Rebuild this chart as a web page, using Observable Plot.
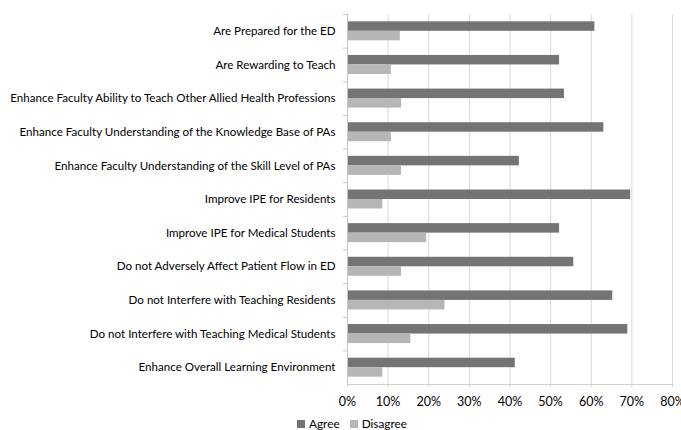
<!DOCTYPE html>
<html>
<head>
<meta charset="utf-8">
<script src="https://cdn.jsdelivr.net/npm/d3@7"></script>
<script src="https://cdn.jsdelivr.net/npm/@observablehq/plot@0.6"></script>
<style>
  html, body { margin: 0; padding: 0; background: #fff; }
  #wrap { position: relative; width: 681px; height: 430px; font-family: Lato, sans-serif; }
  #legend { position: absolute; top: 416px; left: 297px; font-size: 11.8px; color: #000; display: flex; align-items: center; }
  .sw { display: inline-block; width: 8px; height: 8px; margin-right: 4px; }
  .item { display: flex; align-items: center; margin-right: 10px; }
</style>
</head>
<body>
<div id="wrap">
  <div id="chart"></div>
  <div id="legend"></div>
</div>
<script>
const categories = [
  "Are Prepared for the ED",
  "Are Rewarding to Teach",
  "Enhance Faculty Ability to Teach Other Allied Health Professions",
  "Enhance Faculty Understanding of the Knowledge Base of PAs",
  "Enhance Faculty Understanding of the Skill Level of PAs",
  "Improve IPE for Residents",
  "Improve IPE for Medical Students",
  "Do not Adversely Affect Patient Flow in ED",
  "Do not Interfere with Teaching Residents",
  "Do not Interfere with Teaching Medical Students",
  "Enhance Overall Learning Environment"
];
const agree    = [60.9, 52.2, 53.4, 63.1, 42.3, 69.7, 52.2, 55.7, 65.3, 69.0, 41.3];
const disagree = [13.0, 10.8, 13.3, 10.8, 13.3, 8.7, 19.5, 13.3, 24.0, 15.6, 8.7];
const series = ["Agree", "Disagree"];
const seriesColors = ["#747474", "#b6b6b6"];
const xTicks = [0, 10, 20, 30, 40, 50, 60, 70, 80];

const W = 681, H = 410, mt = 14, mb = 26, ml = 347, mr = 9;
const step = (H - mt - mb) / categories.length;

const data = categories.flatMap((c, i) => [
  {category: c, series: "Agree", value: agree[i]},
  {category: c, series: "Disagree", value: disagree[i]}
]);

const chart = Plot.plot({
  width: W, height: H,
  marginTop: mt, marginBottom: mb, marginLeft: ml, marginRight: mr,
  style: {fontFamily: "Lato, sans-serif", fontSize: "11.6px", color: "#000", background: "#fff", overflow: "visible"},
  x: {domain: [0, 80], label: null},
  y: {domain: series, paddingInner: 0, paddingOuter: 0.77, round: false, axis: null},
  fy: {domain: categories, padding: 0, round: false, axis: null, label: null},
  color: {domain: series, range: seriesColors},
  marks: [
    Plot.gridX(xTicks, {stroke: "#d9d9d9", strokeOpacity: 1}),
    Plot.barX(data, {fy: "category", y: "series", x: "value", fill: "series"}),
    Plot.ruleX([0], {stroke: "#c4c4c4"}),
    Plot.frame({anchor: "bottom", facetAnchor: "bottom", stroke: "#d0d0d0"}),
    Plot.axisX(xTicks, {tickSize: 3, tickPadding: 10, stroke: "#d0d0d0", strokeOpacity: 1, tickFormat: d => d + "%", label: null, fontSize: 12.5}),
    Plot.axisFy({anchor: "left", tickSize: 0, tickPadding: 12, label: null}),
    Plot.axisFy({anchor: "left", tickSize: 4, fill: "none", dy: -step / 2, stroke: "#c4c4c4", strokeOpacity: 1, label: null})
  ]
});
document.getElementById("chart").appendChild(chart);

const legend = document.getElementById("legend");
series.forEach((s, i) => {
  const item = document.createElement("span");
  item.className = "item";
  const sw = document.createElement("span");
  sw.className = "sw";
  sw.style.background = seriesColors[i];
  item.appendChild(sw);
  item.appendChild(document.createTextNode(s));
  legend.appendChild(item);
});
</script>
</body>
</html>
